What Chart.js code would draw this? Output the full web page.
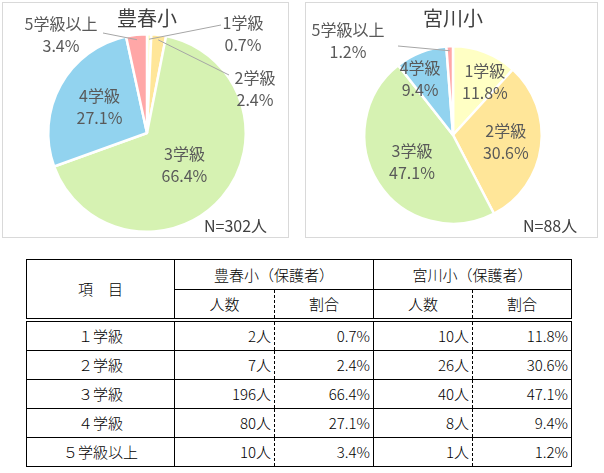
<!DOCTYPE html>
<html><head><meta charset="utf-8">
<script src="https://cdn.jsdelivr.net/npm/chart.js@4"></script>
<style>
body{margin:0;width:604px;height:473px;background:#fff;position:relative;font-family:"Noto Sans CJK JP",sans-serif;overflow:hidden}
.box{position:absolute;border:1.5px solid #d9d9d9;background:#fff}
.ttl{position:absolute;font-size:20px;color:#404040;transform:translateX(-50%);white-space:nowrap}
.nn{position:absolute;font-size:16px;color:#404040}
table{position:absolute;left:26px;top:259px;border-collapse:collapse;font-size:15px;color:#000;font-weight:300}
td{border:1px solid #000;padding:0 3px;height:28px;text-align:center;line-height:16px}
.r{text-align:right}
.dl{border-left:1px dashed #000}
.dr{border-right:1px dashed #000}
</style></head><body>
<div class="box" style="left:2px;top:2px;width:285px;height:234px"></div>
<div class="box" style="left:305px;top:2px;width:291px;height:234px"></div>
<canvas id="c1" style="position:absolute;left:3px;top:3px;width:285px;height:234px"></canvas>
<canvas id="c2" style="position:absolute;left:306px;top:3px;width:291px;height:234px"></canvas>
<div class="ttl" style="left:147px;top:3px">豊春小</div>
<div class="ttl" style="left:453px;top:3px">宮川小</div>
<div class="nn" style="left:204px;top:213px">N=302人</div>
<div class="nn" style="left:523px;top:213px">N=88人</div>
<table id="tb"></table>
<script>
const categories=["1学級","2学級","3学級","4学級","5学級以上"];
const tableCats=["１学級","２学級","３学級","４学級","５学級以上"];
const toyoharuCount=[2,7,196,80,10];
const toyoharuPct=[0.7,2.4,66.4,27.1,3.4];
const miyagawaCount=[10,26,40,8,1];
const miyagawaPct=[11.8,30.6,47.1,9.4,1.2];
const colors=["#FFFFC4","#FFE699","#D6F2B2","#92D3EF","#FFA7A7"];

const labelPlugin={id:'lbl',afterDatasetsDraw(chart,args,opts){
  const ctx=chart.ctx;const meta=chart.getDatasetMeta(0);
  ctx.save();ctx.font='16px "Noto Sans CJK JP", sans-serif';ctx.fillStyle='#595959';ctx.textAlign='center';ctx.textBaseline='middle';
  meta.data.forEach((arc,i)=>{
    const v=chart.data.datasets[0].data[i];
    const o=opts.out[i];
    let x,y;
    const mid=(arc.startAngle+arc.endAngle)/2;
    if(o&&o.length==4){
      x=o[0];y=o[1];
      const ex=arc.x+Math.cos(mid)*arc.outerRadius*0.95, ey=arc.y+Math.sin(mid)*arc.outerRadius*0.95;
      ctx.strokeStyle='#a6a6a6';ctx.lineWidth=1;ctx.beginPath();ctx.moveTo(ex,ey);ctx.lineTo(o[2],o[3]);ctx.stroke();
    } else {
      const f=opts.f[i]||0.6;
      x=arc.x+Math.cos(mid)*arc.outerRadius*f;y=arc.y+Math.sin(mid)*arc.outerRadius*f;
      if(o){x+=o[0];y+=o[1];}
    }
    ctx.fillText(categories[i],x,y-11);ctx.fillText(v.toFixed(1)+'%',x,y+11);
  });
  ctx.restore();}};

function pie(id,data,pad,out,f){
  new Chart(document.getElementById(id),{type:'pie',
    data:{labels:categories,datasets:[{data:data,backgroundColor:colors,borderColor:'#fff',borderWidth:2.5}]},
    options:{responsive:false,animation:false,layout:{padding:pad},
      plugins:{legend:{display:false},tooltip:{enabled:false},lbl:{out:out,f:f}}},
    plugins:[labelPlugin]});
}
const c1=document.getElementById('c1');c1.width=285;c1.height=234;
const c2=document.getElementById('c2');c2.width=291;c2.height=234;
pie('c1',toyoharuPct,{left:44,right:41,top:30,bottom:4},
  [[240,31,218,22],[252,86,226,72],null,null,[58,32,100,30]],[0,0,0.5,0.55,0]);
pie('c2',miyagawaPct,{left:57,right:54,top:42,bottom:12},
  [[12,-2],null,null,[-12,-2],[42,38,92,43]],[0.62,0.6,0.55,0.65,0]);

const tb=document.getElementById('tb');
let h='<tr><td rowspan="2" style="width:141px">項　目</td><td colspan="2" style="height:29px">豊春小（保護者）</td><td colspan="2">宮川小（保護者）</td></tr>';
h+='<tr><td class="dr" style="width:93px">人数</td><td class="dl" style="width:92px">割合</td><td class="dr" style="width:92px">人数</td><td class="dl" style="width:92px">割合</td></tr>';
tableCats.forEach((c,i)=>{
  h+='<tr'+(i==0?' style="border-top:4px double #000"':'')+'><td>'+c+'</td><td class="r dr">'+toyoharuCount[i]+'人</td><td class="r dl">'+toyoharuPct[i].toFixed(1)+'%</td><td class="r dr">'+miyagawaCount[i]+'人</td><td class="r dl">'+miyagawaPct[i].toFixed(1)+'%</td></tr>';
});
tb.innerHTML=h;
</script></body></html>
